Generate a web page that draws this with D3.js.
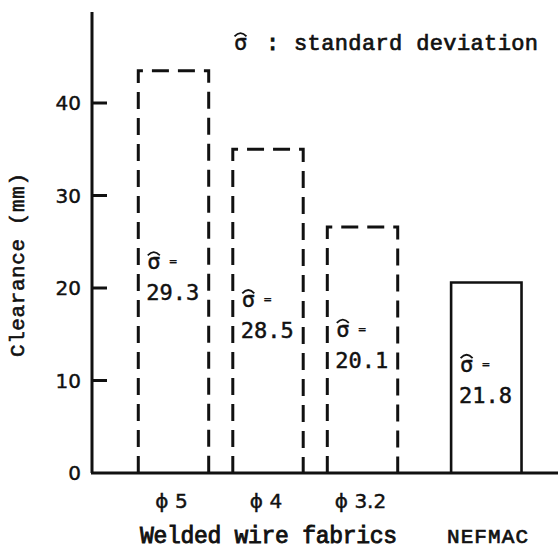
<!DOCTYPE html>
<html>
<head>
<meta charset="utf-8">
<script src="https://cdn.jsdelivr.net/npm/d3@7"></script>
<style>
  body { margin: 0; background: #fff; }
  svg { display: block; }
  text { fill: #111; stroke: #111; stroke-width: 0.45px; }
</style>
</head>
<body>
<div id="chart"></div>
<script>
// clearance data
var categories = ["ϕ 5", "ϕ 4", "ϕ 3.2", "NEFMAC"];
var clearance = [43.5, 35.0, 26.6, 20.6];
var sigmaLabels = ["29.3", "28.5", "20.1", "21.8"];
var dashed = [true, true, true, false];
var yTicks = [0, 10, 20, 30, 40];

var W = 558, H = 551;
var MONO = "'Liberation Mono', 'DejaVu Sans Mono', monospace";
var NUM = "'DejaVu Sans Mono', monospace";
var SANS = "'DejaVu Sans', 'Liberation Sans', sans-serif";

var svg = d3.select("#chart")
  .append("svg")
    .attr("width", W)
    .attr("height", H);

// y scale: 0 at baseline, 40 near top
var y = d3.scaleLinear().domain([0, 40]).range([473, 103]);

// the three welded fabrics sit in one group, NEFMAC off to the right
var x = d3.scaleBand()
  .domain(categories.slice(0, 3))
  .range([126, 410])
  .paddingInner(0.255)
  .paddingOuter(0.13);
var barW = x.bandwidth();
function barX(d, i) {
  if (i < 3) return x(d);
  return x(categories[2]) + x.step() * 1.31;
}

// label height inside each bar (data units)
var labelAt = [18.7, 14.6, 11.4, 7.6];

// sigma with a hat drawn over it
function sigmaHat(g, size) {
  g.append("text")
      .attr("x", 0)
      .style("font-family", NUM)
      .style("font-size", size + "px")
      .text("σ");
  var w = size * 0.5, top = -size * 0.62;
  g.append("path")
      .attr("d", "M" + (0.5) + "," + top + " Q" + (w / 2 + 1) + "," + (top - size * 0.3) + " " + (w + 1.5) + "," + top)
      .attr("fill", "none")
      .attr("stroke", "#111")
      .attr("stroke-width", 1.8);
}

var graph = svg.append("g").attr("class", "graph");

// bars
graph.selectAll("path.bar")
  .data(categories)
  .enter()
  .append("path")
    .attr("class", "bar")
    .attr("d", function(d, i) {
      var x0 = barX(d, i), x1 = x0 + barW;
      return "M" + x0 + "," + y(0) + "V" + y(clearance[i]) + "H" + x1 + "V" + y(0);
    })
    .attr("fill", "none")
    .attr("stroke", "#111")
    .attr("stroke-width", function(d, i) { return dashed[i] ? 3 : 2.6; })
    .attr("stroke-dasharray", function(d, i) { return dashed[i] ? "17,9" : null; });

// sigma labels inside bars
var lab = graph.selectAll("g.sig")
  .data(categories)
  .enter()
  .append("g")
    .attr("class", "sig")
    .attr("transform", function(d, i) {
      return "translate(" + (barX(d, i) + 9) + "," + y(labelAt[i]) + ")";
    });

lab.each(function() {
  var s = d3.select(this).append("g").attr("transform", "translate(0,-31)");
  sigmaHat(s, 22);
});
lab.append("text")
    .attr("x", 22)
    .attr("y", -35)
    .style("font-family", NUM)
    .style("font-size", "13px")
    .style("stroke-width", "0.2px")
    .text("=");
lab.append("text")
    .attr("x", -1)
    .attr("y", 0)
    .style("font-family", NUM)
    .style("font-size", "22px")
    .text(function(d, i) { return sigmaLabels[i]; });

// axes
graph.append("line")
    .attr("x1", 92).attr("y1", 12)
    .attr("x2", 92).attr("y2", y(0))
    .attr("stroke", "#111")
    .attr("stroke-width", 3);
graph.append("line")
    .attr("x1", 91).attr("y1", y(0))
    .attr("x2", W).attr("y2", y(0))
    .attr("stroke", "#111")
    .attr("stroke-width", 3);

var ticks = graph.selectAll("g.tick")
  .data(yTicks)
  .enter()
  .append("g")
    .attr("class", "tick")
    .attr("transform", function(d) { return "translate(0," + y(d) + ")"; });
ticks.filter(function(d) { return d > 0; })
  .append("line")
    .attr("x1", 92).attr("x2", 107)
    .attr("stroke", "#111")
    .attr("stroke-width", 3);
ticks.append("text")
    .attr("x", 81)
    .attr("dy", "0.36em")
    .attr("text-anchor", "end")
    .style("font-family", SANS)
    .style("font-size", "20px")
    .text(function(d) { return d; });

// y axis title
svg.append("text")
    .attr("transform", "translate(24,265) rotate(-90)")
    .attr("text-anchor", "middle")
    .attr("textLength", 184)
    .style("font-family", MONO)
    .style("font-size", "21px")
    .style("stroke-width", "0.6px")
    .text("Clearance (mm)");

// category labels
svg.selectAll("text.cat")
  .data(categories.slice(0, 3))
  .enter()
  .append("text")
    .attr("class", "cat")
    .attr("x", function(d, i) { return barX(d, i) + barW / 2 - 2; })
    .attr("y", 508)
    .attr("text-anchor", "middle")
    .style("font-family", SANS)
    .style("font-size", "20px")
    .text(function(d) { return d; });

svg.append("text")
    .attr("x", 140)
    .attr("y", 543)
    .attr("textLength", 257)
    .style("font-family", MONO)
    .style("font-size", "23px")
    .style("stroke-width", "0.9px")
    .text("Welded wire fabrics");

svg.append("text")
    .attr("x", 447)
    .attr("y", 543)
    .attr("textLength", 81)
    .style("font-family", MONO)
    .style("font-size", "21px")
    .style("stroke-width", "0.7px")
    .text(categories[3]);

// legend
var leg = svg.append("g").attr("transform", "translate(234,50)");
sigmaHat(leg, 22);
svg.append("text")
    .attr("x", 266)
    .attr("y", 50)
    .style("font-family", MONO)
    .style("font-size", "22px")
    .style("stroke-width", "1px")
    .text(":");
svg.append("text")
    .attr("x", 294)
    .attr("y", 50)
    .attr("textLength", 244)
    .style("font-family", MONO)
    .style("font-size", "22px")
    .style("stroke-width", "0.7px")
    .text("standard deviation");
</script>
</body>
</html>
